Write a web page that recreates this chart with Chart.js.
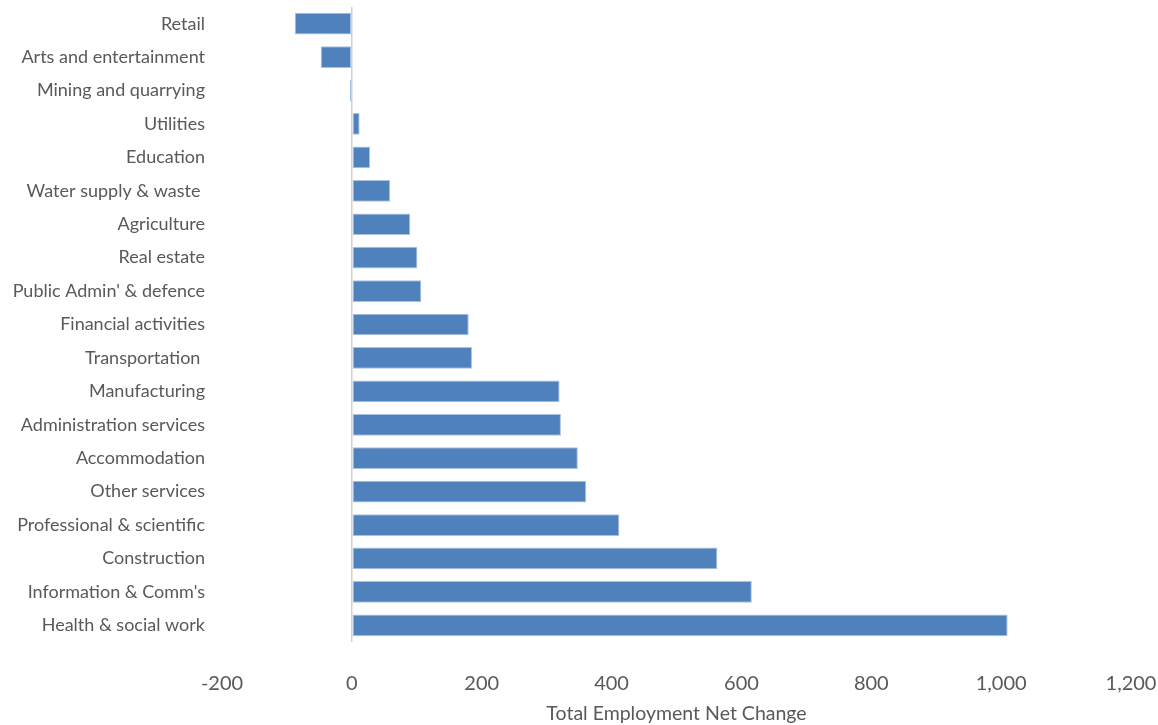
<!DOCTYPE html>
<html>
<head>
<meta charset="utf-8">
<script src="https://cdn.jsdelivr.net/npm/chart.js@4/dist/chart.umd.min.js"></script>
<style>
  html, body { margin: 0; padding: 0; background: #ffffff; }
  #wrap { width: 1158px; height: 725px; position: relative; }
</style>
</head>
<body>
<div id="wrap"><canvas id="chart" width="1158" height="725"></canvas></div>
<script>
// Sectors, listed top to bottom
const sectors = [
  "Retail",
  "Arts and entertainment",
  "Mining and quarrying",
  "Utilities",
  "Education",
  "Water supply & waste ",
  "Agriculture",
  "Real estate",
  "Public Admin' & defence",
  "Financial activities",
  "Transportation ",
  "Manufacturing",
  "Administration services",
  "Accommodation",
  "Other services",
  "Professional & scientific",
  "Construction",
  "Information & Comm's",
  "Health & social work"
];

// Net change in total employment per sector
const netChange = [
  -88, -48, -3, 12, 28, 59, 90, 101, 107, 180,
  185, 320, 322, 348, 361, 412, 563, 616, 1010
];

// Value axis ticks
const axisMin = -200;
const axisMax = 1200;
const axisStep = 200;

const axisTitle = "Total Employment Net Change";

const textColor = "#595959";
const fontFamily = "Lato, 'Open Sans', sans-serif";

new Chart(document.getElementById("chart"), {
  type: "bar",
  data: {
    labels: sectors,
    datasets: [{
      data: netChange,
      backgroundColor: "#4f81bd",
      borderColor: "#a9c1e2",
      borderWidth: 1,
      borderSkipped: false,
      barPercentage: 0.65,
      categoryPercentage: 1.0
    }]
  },
  options: {
    indexAxis: "y",
    responsive: false,
    animation: false,
    layout: { padding: { top: 7, right: 27, left: 0, bottom: 0 } },
    plugins: {
      legend: { display: false },
      tooltip: { enabled: false }
    },
    scales: {
      x: {
        min: axisMin,
        max: axisMax,
        border: { display: false },
        grid: {
          drawTicks: false,
          lineWidth: 1.5,
          color: (ctx) => (ctx.tick && ctx.tick.value === 0) ? "#d0d0d0" : "rgba(0,0,0,0)"
        },
        ticks: {
          stepSize: axisStep,
          padding: 30,
          color: textColor,
          font: { family: fontFamily, size: 20 },
          callback: (v) => Number(v).toLocaleString("en-US")
        },
        title: {
          display: true,
          text: axisTitle,
          color: textColor,
          font: { family: fontFamily, size: 19.5 },
          padding: { top: 5, bottom: 0 }
        },
        afterFit: (scale) => {
          scale.height = 83;
          scale.paddingLeft = 0;
          scale.paddingRight = 0;
        }
      },
      y: {
        border: { display: false },
        grid: { display: false, drawTicks: false },
        ticks: {
          padding: 17,
          color: textColor,
          font: { family: fontFamily, size: 18 },
          autoSkip: false
        },
        afterFit: (scale) => {
          scale.width = 222;
          scale.paddingTop = 0;
          scale.paddingBottom = 0;
        }
      }
    }
  }
});
</script>
</body>
</html>
